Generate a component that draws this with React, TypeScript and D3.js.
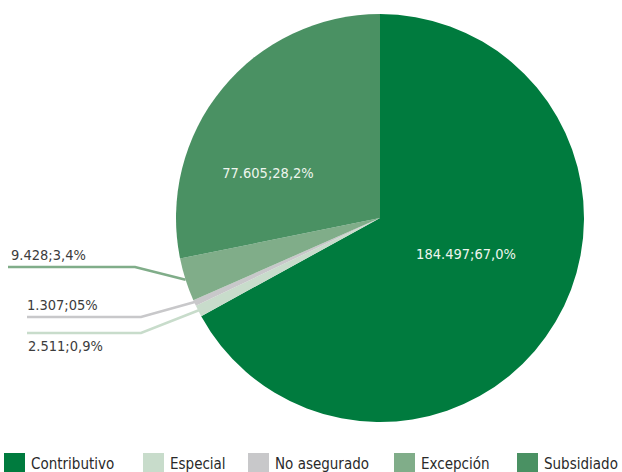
import React from "react";
import * as d3 from "d3";

const categories = ["Contributivo", "Especial", "No asegurado", "Excepción", "Subsidiado"];
const values = [184497, 2511, 1307, 9428, 77605];
const labels = ["184.497;67,0%", "2.511;0,9%", "1.307;05%", "9.428;3,4%", "77.605;28,2%"];
const colors = ["#007b3e", "#c8dccb", "#c8c8ca", "#80ad89", "#4a9163"];

const W = 622;
const H = 472;
const cx = 380;
const cy = 218;
const R = 204;
const FONT = "'DejaVu Sans Condensed', 'DejaVu Sans', sans-serif";

// label layout (annotation positions)
const insideLabel: Record<number, { dx: number; dy: number }> = {
  0: { dx: 86, dy: 36 },
  4: { dx: -112, dy: -45 },
};
const outsideLabel: Record<number, { x0: number; x1: number; y: number; tx: number; ty: number; rf: number }> = {
  3: { x0: 8, x1: 135, y: 267, tx: 11, ty: 260, rf: 1.0 },
  2: { x0: 27, x1: 141, y: 317, tx: 27, ty: 310, rf: 0.97 },
  1: { x0: 27, x1: 141, y: 333, tx: 28, ty: 351, rf: 0.97 },
};

const legendSquares = [4, 143, 248, 394, 517];

export default function App() {
  const pie = d3.pie<number>().sort(null).value((d) => d)(values);
  const arc = d3.arc<d3.PieArcDatum<number>>().innerRadius(0).outerRadius(R);

  return (
    <svg width={W} height={H} style={{ position: "absolute", left: 0, top: 0, background: "#fff" }}>
      <g transform={`translate(${cx},${cy})`}>
        {pie.map((p, i) => (
          <path key={i} d={arc(p) || ""} fill={colors[i]} />
        ))}
      </g>
      {pie.map((p, i) => {
        const o = outsideLabel[i];
        if (!o) return null;
        const mid = (p.startAngle + p.endAngle) / 2;
        const ex = cx + R * o.rf * Math.sin(mid);
        const ey = cy - R * o.rf * Math.cos(mid);
        return (
          <g key={"o" + i}>
            <polyline
              points={`${o.x0},${o.y} ${o.x1},${o.y} ${ex},${ey}`}
              fill="none"
              stroke={colors[i]}
              strokeWidth={2.6}
            />
            <text x={o.tx} y={o.ty} fontFamily={FONT} fontSize={14.5} fill="#3c3c3c">
              {labels[i]}
            </text>
          </g>
        );
      })}
      {pie.map((p, i) => {
        const l = insideLabel[i];
        if (!l) return null;
        return (
          <text
            key={"i" + i}
            x={cx + l.dx}
            y={cy + l.dy + 5}
            textAnchor="middle"
            fontFamily={FONT}
            fontSize={14.5}
            fill="#eef5ee"
          >
            {labels[i]}
          </text>
        );
      })}
      {categories.map((c, i) => (
        <g key={"l" + i}>
          <rect x={legendSquares[i]} y={453} width={21} height={19} fill={colors[i]} />
          <text x={legendSquares[i] + 27} y={469} fontFamily={FONT} fontSize={15} fill="#2a2a2a">
            {c}
          </text>
        </g>
      ))}
    </svg>
  );
}
